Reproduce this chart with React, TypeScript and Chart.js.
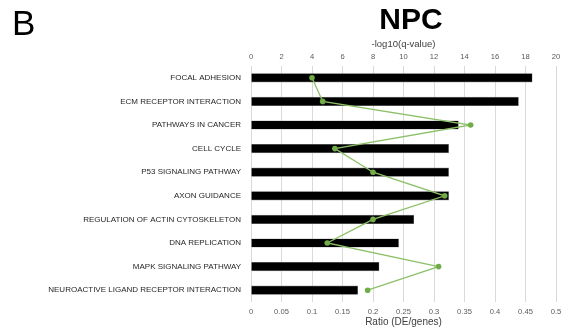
import React, { useEffect, useRef } from "react";
import { Chart, registerables } from "chart.js";

Chart.register(...registerables);

const categories = [
  "FOCAL ADHESION",
  "ECM RECEPTOR INTERACTION",
  "PATHWAYS IN CANCER",
  "CELL CYCLE",
  "P53 SIGNALING PATHWAY",
  "AXON GUIDANCE",
  "REGULATION OF ACTIN CYTOSKELETON",
  "DNA REPLICATION",
  "MAPK SIGNALING PATHWAY",
  "NEUROACTIVE LIGAND RECEPTOR INTERACTION",
];

const ratioValues = [0.461, 0.4385, 0.34, 0.324, 0.324, 0.324, 0.267, 0.242, 0.21, 0.175];
const qValues = [4.0, 4.7, 14.4, 5.5, 8.0, 12.7, 8.0, 5.0, 12.3, 7.65];

const FONT = "'Liberation Sans', Arial, sans-serif";

export default function App() {
  const ref = useRef<HTMLCanvasElement | null>(null);

  useEffect(() => {
    if (!ref.current) return;
    const chart = new Chart(ref.current, {
      type: "bar",
      data: {
        labels: categories,
        datasets: [
          {
            type: "line",
            label: "-log10(q-value)",
            data: qValues,
            indexAxis: "y",
            xAxisID: "x2",
            yAxisID: "y",
            borderColor: "#8cc068",
            borderWidth: 1.3,
            pointRadius: 2.8,
            pointBackgroundColor: "#70ad47",
            pointBorderColor: "#70ad47",
            pointBorderWidth: 0,
            tension: 0,
            order: 0,
          } as any,
          {
            type: "bar",
            label: "Ratio",
            data: ratioValues,
            indexAxis: "y",
            xAxisID: "x",
            yAxisID: "y",
            backgroundColor: "#000000",
            borderColor: "#8c8c8c",
            borderWidth: 0.6,
            barThickness: 8.5,
            order: 1,
          } as any,
        ],
      },
      options: {
        indexAxis: "y",
        responsive: false,
        animation: false,
        layout: { padding: { top: 36, right: 14, left: 0, bottom: 0 } },
        plugins: {
          legend: { display: false },
          tooltip: { enabled: false },
          title: { display: false },
        },
        scales: {
          y: {
            type: "category",
            grid: { display: false, drawTicks: false },
            border: { display: false },
            ticks: {
              color: "#262626",
              font: { family: FONT, size: 8 },
              padding: 10,
              autoSkip: false,
            },
            afterFit: (s: any) => {
              s.width = 251;
            },
          },
          x: {
            type: "linear",
            position: "bottom",
            min: 0,
            max: 0.5,
            grid: { color: "#d9d9d9", lineWidth: 1, drawTicks: false },
            border: { display: false },
            ticks: {
              stepSize: 0.05,
              color: "#595959",
              font: { family: FONT, size: 7.6 },
              padding: 5,
              callback: (v: any) => String(+Number(v).toFixed(2)),
            },
            title: {
              display: true,
              text: "Ratio (DE/genes)",
              color: "#404040",
              font: { family: FONT, size: 10 },
              padding: { top: 0, bottom: 3.6 },
            },
            afterFit: (s: any) => {
              s.height = 30;
            },
          },
          x2: {
            type: "linear",
            position: "top",
            min: 0,
            max: 20,
            grid: { display: false, drawTicks: false },
            border: { display: false },
            ticks: {
              stepSize: 2,
              color: "#595959",
              font: { family: FONT, size: 7.6 },
              padding: 4.5,
            },
            title: {
              display: true,
              text: "-log10(q-value)",
              color: "#404040",
              font: { family: FONT, size: 9.5 },
              padding: { top: 2.5, bottom: 0 },
            },
            afterFit: (s: any) => {
              s.height = 30;
            },
          },
        },
      } as any,
    });
    return () => chart.destroy();
  }, []);

  return (
    <div
      style={{
        position: "fixed",
        left: 0,
        top: 0,
        width: 570,
        height: 332,
        background: "#ffffff",
        overflow: "hidden",
      }}
    >
      <canvas ref={ref} width={570} height={332} style={{ position: "absolute", left: 0, top: 0 }} />
      <div
        style={{
          position: "absolute",
          left: 12,
          top: 5,
          fontFamily: FONT,
          fontSize: 35,
          lineHeight: "35px",
          color: "#000",
        }}
      >
        B
      </div>
      <div
        style={{
          position: "absolute",
          left: 411,
          top: 4,
          transform: "translateX(-50%)",
          fontFamily: FONT,
          fontSize: 30,
          fontWeight: "bold",
          lineHeight: "30px",
          color: "#000",
          whiteSpace: "nowrap",
        }}
      >
        NPC
      </div>
    </div>
  );
}
